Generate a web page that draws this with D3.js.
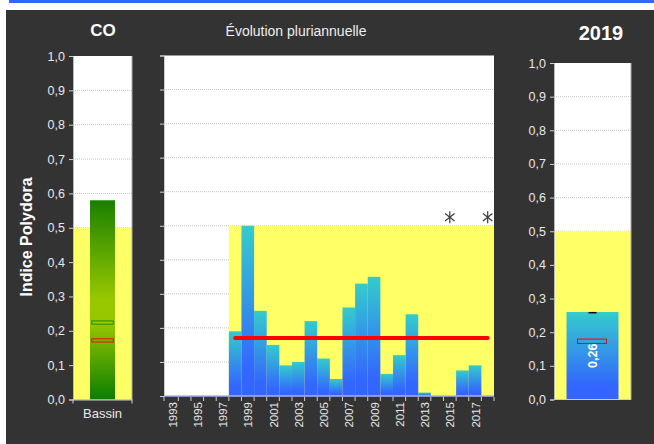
<!DOCTYPE html>
<html><head><meta charset="utf-8">
<script src="https://cdn.jsdelivr.net/npm/d3@7"></script>
<style>
html,body{margin:0;padding:0;background:#fff;}
svg{display:block;font-family:"Liberation Sans",Arial,sans-serif;}
</style></head>
<body>
<svg id="c" width="654" height="444"></svg>
<script>
// ---- data ----
const yTicks = [0, 0.1, 0.2, 0.3, 0.4, 0.5, 0.6, 0.7, 0.8, 0.9, 1.0];
const gridTicks = [0.1, 0.2, 0.3, 0.4, 0.5, 0.6, 0.7, 0.8, 0.9];
const threshold = 0.5;

const bassinCats = ["Bassin"];
const bassinValues = [0.58];
const bassinGreenMark = [0.224];
const bassinRedMark = [0.172];

const years = ["1993","1994","1995","1996","1997","1998","1999","2000","2001","2002","2003","2004","2005",
  "2006","2007","2008","2009","2010","2011","2012","2013","2014","2015","2016","2017","2018"];
const yearValues = [null,null,null,null,null,0.19,0.50,0.25,0.15,0.09,0.10,0.22,0.11,
  0.05,0.26,0.33,0.35,0.065,0.12,0.24,0.01,null,null,0.075,0.09,null];
const yearTickLabels = ["1993","1995","1997","1999","2001","2003","2005","2007","2009","2011","2013","2015","2017"];
const missingYears = ["2015","2018"];
const missingMarkValue = 0.525;
const refLineYears = ["1998","2018"];
const refLineValue = 0.17;
const zoneStartYear = "1998";

const curCats = ["2019"];
const curValues = [0.26];
const curRedMark = [0.173];
const curBlackMark = [0.258];

// ---- drawing ----
const svg = d3.select("#c");
const fmt = v => d3.format(".1f")(v).replace(".", ",");
const tickText = "#e8e8e8";

svg.append("rect").attr("x",0).attr("y",0).attr("width",654).attr("height",444).attr("fill","#fff");
svg.append("rect").attr("x",9).attr("y",0).attr("width",645).attr("height",3).attr("fill","#3366ff");
svg.append("rect").attr("x",6).attr("y",10).attr("width",648).attr("height",434).attr("fill","#333333");

const defs = svg.append("defs");
const gg = defs.append("linearGradient").attr("id","gGreen").attr("x1",0).attr("y1",0).attr("x2",0).attr("y2",1);
gg.append("stop").attr("offset","0").attr("stop-color","#1a8000");
gg.append("stop").attr("offset","0.5").attr("stop-color","#99c800");
gg.append("stop").attr("offset","0.62").attr("stop-color","#95c600");
gg.append("stop").attr("offset","1").attr("stop-color","#0c7d00");
const gb = defs.append("linearGradient").attr("id","gBlue").attr("x1",0).attr("y1",0).attr("x2",0).attr("y2",1);
gb.append("stop").attr("offset","0").attr("stop-color","#33cccc");
gb.append("stop").attr("offset","0.85").attr("stop-color","#3366ff");
gb.append("stop").attr("offset","1").attr("stop-color","#3366ff");

function grid(g, x0, x1, y) {
  g.selectAll("line.grid").data(gridTicks).join("line").attr("class","grid")
    .attr("x1",x0).attr("x2",x1).attr("y1",d=>y(d)).attr("y2",d=>y(d))
    .attr("stroke","#c4c4c4").attr("stroke-width",1).attr("stroke-dasharray","1,1");
}
function styleAxis(g, color) {
  g.selectAll("path.domain").attr("stroke", color);
  g.selectAll(".tick line").attr("stroke", "#cfcfcf");
  g.selectAll(".tick text").attr("fill", tickText).attr("font-size", 12.5);
}

// ===== Left: Bassin =====
{
  const x = d3.scaleBand().domain(bassinCats).range([73,132]).padding(0.405);
  const y = d3.scaleLinear().domain([0,1]).range([399.5,56]);
  const g = svg.append("g");
  g.append("rect").attr("x",73).attr("y",y(1)).attr("width",59).attr("height",y(0)-y(1)).attr("fill","#fff");
  grid(g, 73, 132, y);
  g.append("rect").attr("x",73).attr("y",y(threshold)).attr("width",59).attr("height",y(0)-y(threshold)).attr("fill","#ffff66");
  g.selectAll("rect.bar").data(bassinValues).join("rect").attr("class","bar")
    .attr("x",(d,i)=>x(bassinCats[i])).attr("width",x.bandwidth())
    .attr("y",d=>y(d)).attr("height",d=>y(0)-y(d)).attr("fill","url(#gGreen)");
  const mw = x.bandwidth()*0.86;
  g.selectAll("rect.gm").data(bassinGreenMark).join("rect").attr("class","gm")
    .attr("x",(d,i)=>x(bassinCats[i])+(x.bandwidth()-mw)/2).attr("width",mw)
    .attr("y",d=>y(d)-1.6).attr("height",3.2).attr("fill","#9acd00").attr("stroke","#1a8a00").attr("stroke-width",1);
  g.selectAll("rect.rm").data(bassinRedMark).join("rect").attr("class","rm")
    .attr("x",(d,i)=>x(bassinCats[i])+(x.bandwidth()-mw)/2).attr("width",mw)
    .attr("y",d=>y(d)-1.6).attr("height",3.2).attr("fill","none").attr("stroke","#ff0000").attr("stroke-width",1);
  // borders
  g.append("line").attr("x1",132).attr("x2",132).attr("y1",y(1)).attr("y2",y(0)).attr("stroke","#aaaaaa");
  const ya = g.append("g").attr("transform","translate(73,0)").call(d3.axisLeft(y).tickValues(yTicks).tickFormat(fmt).tickSize(4).tickPadding(4));
  styleAxis(ya, "#bbbbbb");
  const xa = g.append("g").attr("transform",`translate(0,${y(0)})`).call(d3.axisBottom(x).tickSize(0).tickPadding(9));
  xa.selectAll("path.domain").attr("stroke","#cccccc");
  xa.selectAll(".tick text").attr("fill",tickText).attr("font-size",13);
  g.selectAll("line.xe").data([73,132]).join("line").attr("class","xe")
    .attr("x1",d=>d).attr("x2",d=>d).attr("y1",y(0)).attr("y2",y(0)+4).attr("stroke","#cfcfcf");
  svg.append("text").attr("x",103).attr("y",36).attr("text-anchor","middle").attr("fill","#fff")
    .attr("font-weight","bold").attr("font-size",17).text("CO");
  svg.append("text").attr("transform","translate(32,237) rotate(-90)").attr("text-anchor","middle")
    .attr("fill","#fff").attr("font-weight","bold").attr("font-size",16).text("Indice Polydora");
}

// ===== Middle: Évolution pluriannuelle =====
{
  const x = d3.scaleBand().domain(years).range([165.7,494]).padding(0);
  const y = d3.scaleLinear().domain([0,1]).range([396,55.5]);
  const g = svg.append("g");
  g.append("rect").attr("x",164).attr("y",y(1)).attr("width",494-164).attr("height",y(0)-y(1)).attr("fill","#fff");
  grid(g, 164, 494, y);
  g.append("rect").attr("x",x(zoneStartYear)).attr("y",y(threshold)).attr("width",494-x(zoneStartYear))
    .attr("height",y(0)-y(threshold)).attr("fill","#ffff66");
  const bars = years.map((yr,i)=>({yr, v:yearValues[i]})).filter(d=>d.v!==null);
  g.selectAll("rect.bar").data(bars).join("rect").attr("class","bar")
    .attr("x",d=>x(d.yr)).attr("width",x.bandwidth())
    .attr("y",d=>y(d.v)).attr("height",d=>y(0)-y(d.v)).attr("fill","url(#gBlue)");
  // reference line
  g.append("line").attr("x1",x(refLineYears[0])+x.bandwidth()/2).attr("x2",x(refLineYears[1])+x.bandwidth()/2)
    .attr("y1",y(refLineValue)).attr("y2",y(refLineValue))
    .attr("stroke","#ff0000").attr("stroke-width",4).attr("stroke-linecap","round");
  // asterisks for missing data
  const r = 6;
  const angles = [90, 38, 142];
  missingYears.forEach(yr=>{
    const cx = x(yr)+x.bandwidth()/2, cy = y(missingMarkValue);
    angles.forEach(a=>{
      const rad = a*Math.PI/180;
      g.append("line").attr("x1",cx-r*Math.cos(rad)).attr("x2",cx+r*Math.cos(rad))
        .attr("y1",cy-r*Math.sin(rad)).attr("y2",cy+r*Math.sin(rad))
        .attr("stroke","#3a3a3a").attr("stroke-width",1.2);
    });
  });
  // axes
  const ya = g.append("g").attr("transform","translate(164,0)").call(d3.axisLeft(y).tickValues(yTicks).tickFormat("").tickSize(4));
  styleAxis(ya, "#cccccc");
  // x axis baseline
  g.append("line").attr("x1",164).attr("x2",494).attr("y1",y(0)).attr("y2",y(0)).attr("stroke","#aab6f4").attr("stroke-width",1.5);
  const tickPos = [164].concat(years.slice(1).map(d=>x(d))).concat([494]);
  g.selectAll("line.xt").data(tickPos).join("line").attr("class","xt")
    .attr("x1",d=>d).attr("x2",d=>d).attr("y1",y(0)+1).attr("y2",y(0)+5).attr("stroke","#cfcfcf");
  g.selectAll("text.xl").data(yearTickLabels).join("text").attr("class","xl")
    .attr("transform",d=>`translate(${x(d)+x.bandwidth()/2+0.5},${y(0)+6}) rotate(-90)`)
    .attr("text-anchor","end").attr("dy","0.35em").attr("fill",tickText).attr("font-size",11.5).text(d=>d);
  svg.append("text").attr("x",296).attr("y",36).attr("text-anchor","middle").attr("fill","#eeeeee")
    .attr("font-size",14).text("Évolution pluriannuelle");
}

// ===== Right: 2019 =====
{
  const x = d3.scaleBand().domain(curCats).range([554,631]).padding(0.194);
  const y = d3.scaleLinear().domain([0,1]).range([399.5,63]);
  const g = svg.append("g");
  g.append("rect").attr("x",554).attr("y",y(1)).attr("width",77).attr("height",y(0)-y(1)).attr("fill","#fff");
  grid(g, 554, 631, y);
  g.append("rect").attr("x",554).attr("y",y(threshold)).attr("width",77).attr("height",y(0)-y(threshold)).attr("fill","#ffff66");
  g.selectAll("rect.bar").data(curValues).join("rect").attr("class","bar")
    .attr("x",(d,i)=>x(curCats[i])).attr("width",x.bandwidth())
    .attr("y",d=>y(d)).attr("height",d=>y(0)-y(d)).attr("fill","url(#gBlue)");
  const cx = x(curCats[0])+x.bandwidth()/2;
  g.selectAll("rect.rm").data(curRedMark).join("rect").attr("class","rm")
    .attr("x",cx-15).attr("width",29).attr("y",d=>y(d)-2.2).attr("height",4.4)
    .attr("fill","none").attr("stroke","#ff0000").attr("stroke-width",1);
  g.selectAll("line.bm").data(curBlackMark).join("line").attr("class","bm")
    .attr("x1",cx-4).attr("x2",cx+4).attr("y1",d=>y(d)).attr("y2",d=>y(d))
    .attr("stroke","#000").attr("stroke-width",1.5);
  g.selectAll("text.vl").data(curValues).join("text").attr("class","vl")
    .attr("transform",d=>`translate(${cx},${y(0.13)}) rotate(-90)`)
    .attr("text-anchor","middle").attr("dy","0.35em").attr("fill","#fff").attr("font-weight","bold")
    .attr("font-size",12.5).text(d=>d3.format(".2f")(d).replace(".", ","));
  g.append("line").attr("x1",631).attr("x2",631).attr("y1",y(1)).attr("y2",y(0)).attr("stroke","#aaaaaa");
  g.append("line").attr("x1",554).attr("x2",631).attr("y1",y(0)).attr("y2",y(0)).attr("stroke","#cccccc");
  const ya = g.append("g").attr("transform","translate(554,0)").call(d3.axisLeft(y).tickValues(yTicks).tickFormat(fmt).tickSize(4).tickPadding(4));
  styleAxis(ya, "#bbbbbb");
  svg.append("text").attr("x",601).attr("y",40).attr("text-anchor","middle").attr("fill","#fff")
    .attr("font-weight","bold").attr("font-size",20).text("2019");
}
</script>
</body></html>
